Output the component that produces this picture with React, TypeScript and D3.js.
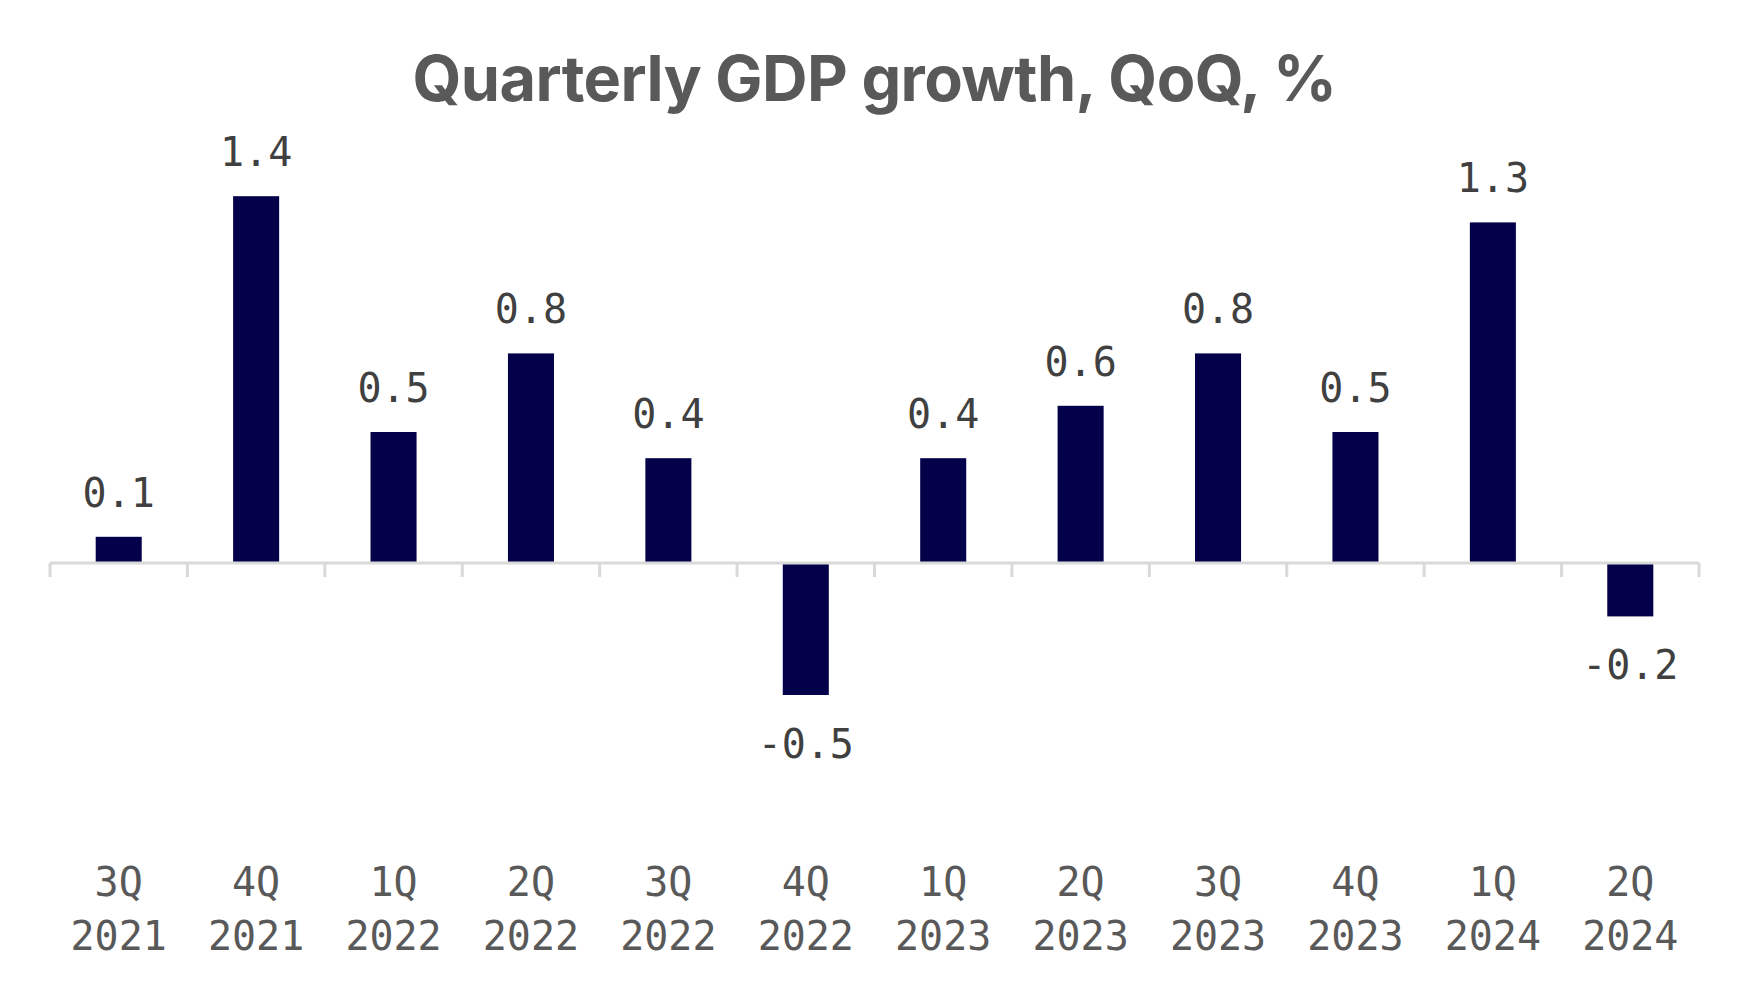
import React from "react";
import * as d3 from "d3";

const categories = ["3Q 2021", "4Q 2021", "1Q 2022", "2Q 2022", "3Q 2022", "4Q 2022", "1Q 2023", "2Q 2023", "3Q 2023", "4Q 2023", "1Q 2024", "2Q 2024"];
const values = [0.1, 1.4, 0.5, 0.8, 0.4, -0.5, 0.4, 0.6, 0.8, 0.5, 1.3, -0.2];
const title = "Quarterly GDP growth, QoQ, %";

const W = 1755, H = 990;
const left = 50, right = 1699, zeroY = 563;
const unit = 262;

export default function App() {
  const x = d3.scaleBand<string>().domain(categories).range([left, right]).paddingInner(0.665).paddingOuter(0.3325);
  const y = d3.scaleLinear().domain([0, 1]).range([zeroY, zeroY - unit]);
  const step = x.step();
  const mono = "'DejaVu Sans Mono', 'Liberation Mono', monospace";
  return (
    <svg width={W} height={H} style={{ position: "absolute", top: 0, left: 0, background: "#fff" }}>
      <text x={(left + right) / 2} y={101} textAnchor="middle" fontFamily="Inter, 'Noto Sans', sans-serif" fontWeight={700} fontSize={63} fill="#595959" letterSpacing={-0.6}>{title}</text>
      {categories.map((c, i) => {
        const v = values[i];
        const bx = x(c)!;
        const top = v >= 0 ? y(v) : zeroY + 1;
        const h = v >= 0 ? zeroY - y(v) : y(v) - zeroY;
        return <rect key={c} x={bx} y={top} width={x.bandwidth()} height={h} fill="#03014a" />;
      })}
      <line x1={left} x2={right} y1={zeroY} y2={zeroY} stroke="#d9d9d9" strokeWidth={3} />
      {d3.range(categories.length + 1).map((i) => (
        <line key={i} x1={left + i * step} x2={left + i * step} y1={zeroY} y2={zeroY + 14} stroke="#d9d9d9" strokeWidth={3} />
      ))}
      {categories.map((c, i) => {
        const v = values[i];
        const cx = x(c)! + x.bandwidth() / 2;
        const ly = v >= 0 ? y(v) - 30 : y(v) + 64;
        return <text key={c} x={cx} y={ly} textAnchor="middle" fontFamily={mono} fontSize={40} fill="#404040">{v.toFixed(1)}</text>;
      })}
      {categories.map((c) => {
        const cx = x(c)! + x.bandwidth() / 2;
        const [q, yr] = c.split(" ");
        return (
          <text key={c} x={cx} textAnchor="middle" fontFamily={mono} fontSize={40} fill="#595959">
            <tspan x={cx} y={896}>{q}</tspan>
            <tspan x={cx} y={950}>{yr}</tspan>
          </text>
        );
      })}
    </svg>
  );
}
